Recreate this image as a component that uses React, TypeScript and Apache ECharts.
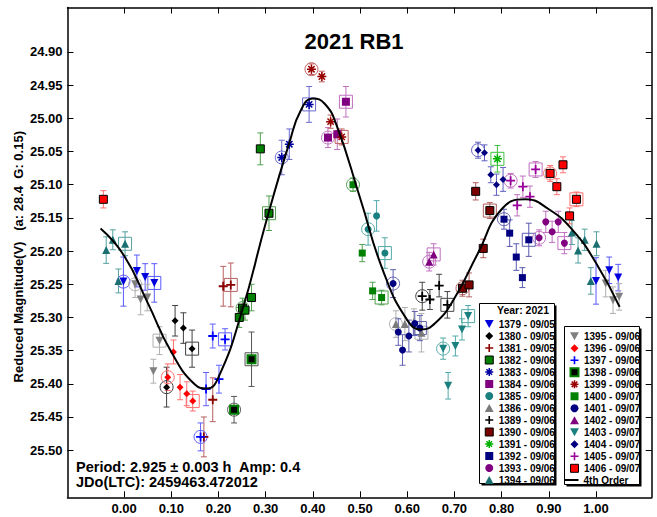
import React, { useEffect, useRef } from 'react';
import * as echarts from 'echarts';

// [phase, reduced magnitude, error, ring (0 none, 1 circle, 2 square)]
type Pt = [number, number, number, number];

const s1379: Pt[] = [[-0.0015, 25.246, 0.037, 1], [0.027, 25.230, 0.024, 0], [0.0445, 25.239, 0.020, 0], [0.064, 25.248, 0.029, 2], [1.000, 25.245, 0.035, 0], [1.028, 25.229, 0.020, 0], [1.047, 25.240, 0.020, 0]];
const s1380: Pt[] = [[0.108, 25.305, 0.023, 0], [0.1256, 25.316, 0.023, 0], [0.144, 25.347, 0.028, 2], [0.090, 25.405, 0.030, 1]];
const s1381: Pt[] = [[0.1878, 25.424, 0.033, 0], [0.169, 25.480, 0.030, 0], [0.210, 25.253, 0.030, 0], [0.226, 25.251, 0.033, 2]];
const s1382: Pt[] = [[0.2886, 25.046, 0.024, 0], [0.307, 25.143, 0.026, 2], [0.244, 25.300, 0.015, 0], [0.251, 25.286, 0.015, 1], [0.256, 25.289, 0.015, 0], [0.270, 25.270, 0.020, 0]];
const s1383: Pt[] = [[0.334, 25.059, 0.026, 1], [0.350, 25.039, 0.023, 0], [0.392, 24.979, 0.027, 2]];
const s1384: Pt[] = [[0.432, 25.029, 0.015, 1], [0.4517, 25.024, 0.023, 0], [0.470, 24.975, 0.023, 2]];
const s1385: Pt[] = [[0.517, 25.167, 0.024, 1], [0.535, 25.147, 0.023, 0], [0.5526, 25.203, 0.023, 2]];
const s1386: Pt[] = [[0.576, 25.310, 0.020, 1], [0.595, 25.310, 0.025, 0], [0.614, 25.307, 0.020, 0], [0.630, 25.323, 0.029, 2]];
const s1389: Pt[] = [[0.6317, 25.268, 0.021, 1], [0.648, 25.273, 0.015, 0], [0.6676, 25.252, 0.017, 0], [0.685, 25.281, 0.020, 2]];
const s1390: Pt[] = [[0.717, 25.256, 0.012, 1], [0.731, 25.251, 0.018, 0], [0.761, 25.196, 0.014, 0], [0.745, 25.110, 0.013, 0], [0.775, 25.139, 0.012, 2]];
const s1391: Pt[] = [[0.791, 25.061, 0.020, 2]];
const s1392: Pt[] = [[0.805, 25.152, 0.015, 1], [0.817, 25.173, 0.020, 0], [0.831, 25.209, 0.020, 0], [0.844, 25.240, 0.015, 0], [0.8575, 25.183, 0.025, 2]];
const s1393: Pt[] = [[0.8794, 25.180, 0.012, 1], [0.8935, 25.156, 0.016, 0], [0.907, 25.171, 0.016, 0], [0.920, 25.156, 0.016, 0], [0.933, 25.188, 0.016, 2]];
const s1394: Pt[] = [[-0.038, 25.1985, 0.020, 0], [-0.024, 25.183, 0.015, 0], [0.002, 25.189, 0.018, 2], [-0.012, 25.245, 0.018, 0], [0.949, 25.172, 0.018, 0], [0.962, 25.199, 0.019, 0], [0.976, 25.183, 0.016, 0], [1.001, 25.189, 0.018, 0], [0.989, 25.245, 0.020, 0]];
const s1395: Pt[] = [[0.0233, 25.250, 0.020, 1], [0.035, 25.273, 0.023, 0], [0.049, 25.270, 0.020, 0], [0.075, 25.335, 0.021, 2], [0.062, 25.381, 0.018, 0], [1.0205, 25.249, 0.020, 0], [1.036, 25.274, 0.020, 0], [1.049, 25.269, 0.020, 0]];
const s1396: Pt[] = [[0.1045, 25.352, 0.018, 0], [0.0925, 25.390, 0.020, 1], [0.1186, 25.405, 0.019, 0], [0.1327, 25.415, 0.018, 0], [0.1454, 25.426, 0.015, 2]];
const s1397: Pt[] = [[0.1736, 25.408, 0.025, 0], [0.201, 25.393, 0.021, 0], [0.162, 25.480, 0.021, 1], [0.1878, 25.328, 0.018, 0], [0.2139, 25.333, 0.016, 2]];
const s1398: Pt[] = [[0.233, 25.439, 0.020, 1], [0.270, 25.363, 0.041, 2]];
const s1399: Pt[] = [[0.397, 24.926, 0.008, 1], [0.419, 24.937, 0.008, 0], [0.4376, 25.005, 0.010, 0], [0.461, 25.028, 0.012, 2]];
const s1400: Pt[] = [[0.485, 25.100, 0.010, 1], [0.5046, 25.203, 0.013, 0], [0.5266, 25.260, 0.013, 0], [0.5456, 25.270, 0.011, 2]];
const s1401: Pt[] = [[0.570, 25.249, 0.021, 1], [0.581, 25.322, 0.020, 0], [0.590, 25.349, 0.023, 0], [0.6034, 25.328, 0.024, 0], [0.616, 25.309, 0.018, 0], [0.6267, 25.316, 0.019, 2]];
const s1402: Pt[] = [[0.6465, 25.216, 0.014, 1], [0.656, 25.205, 0.016, 2]];
const s1403: Pt[] = [[0.676, 25.347, 0.016, 1], [0.6866, 25.403, 0.020, 0], [0.702, 25.343, 0.015, 0], [0.716, 25.318, 0.016, 0], [0.729, 25.298, 0.016, 2]];
const s1404: Pt[] = [[0.750, 25.048, 0.012, 1], [0.7637, 25.052, 0.012, 0], [0.777, 25.085, 0.012, 0], [0.789, 25.100, 0.016, 0], [0.803, 25.092, 0.018, 0]];
const s1405: Pt[] = [[0.819, 25.094, 0.011, 1], [0.833, 25.131, 0.016, 0], [0.845, 25.103, 0.016, 0], [0.860, 25.118, 0.016, 0], [0.872, 25.077, 0.012, 2]];
const s1406: Pt[] = [[-0.044, 25.122, 0.013, 0], [0.9027, 25.083, 0.012, 1], [0.930, 25.070, 0.012, 0], [0.917, 25.103, 0.012, 0], [0.944, 25.147, 0.012, 0], [0.9585, 25.122, 0.011, 2]];

// 4th order fit
const curvePhase = [-0.05, 0.0, 0.05, 0.10, 0.15, 0.175, 0.20, 0.25, 0.30, 0.35, 0.375, 0.40, 0.425, 0.45, 0.50, 0.55, 0.60, 0.63, 0.66, 0.70, 0.75, 0.80, 0.85, 0.90, 0.95, 1.00, 1.05];
const curveMag = [25.166, 25.207, 25.278, 25.352, 25.401, 25.407, 25.390, 25.290, 25.158, 25.037, 24.987, 24.970, 24.978, 25.010, 25.120, 25.232, 25.304, 25.318, 25.308, 25.271, 25.203, 25.137, 25.122, 25.137, 25.168, 25.218, 25.284];

const xTicks = [0.0, 0.1, 0.2, 0.3, 0.4, 0.5, 0.6, 0.7, 0.8, 0.9, 1.0];
const yTicks = [24.90, 24.95, 25.00, 25.05, 25.10, 25.15, 25.20, 25.25, 25.30, 25.35, 25.40, 25.45, 25.50];

const X_MIN = -0.12, X_MAX = 1.118, Y_MIN = 24.833, Y_MAX = 25.571;

const FONT = '"Liberation Sans", Arial, sans-serif';

const DOWN = 'path://M0,0L10,0L5,9Z';
const UP = 'path://M5,0L10,9L0,9Z';
const DIAM = 'path://M5,0L10,5L5,10L0,5Z';
const PLUS = 'path://M4,0H6V4H10V6H6V10H4V6H0V4H4Z';
const STAR = 'path://M0,5L10,5M5,0L5,10M1.5,1.5L8.5,8.5M1.5,8.5L8.5,1.5';
const SQ = 'path://M0,0H10V10H0Z';
const CIR = 'circle';

interface Sess { name: string; data: Pt[]; sym: string; size: number; color: string; border?: string; bw?: number; err: string; }

const sessions: Sess[] = [
  { name: '1379 - 09/05', data: s1379, sym: DOWN, size: 8, color: '#0000dd', err: '#5a5aff' },
  { name: '1380 - 09/05', data: s1380, sym: DIAM, size: 7, color: '#000000', err: '#404040' },
  { name: '1381 - 09/05', data: s1381, sym: PLUS, size: 9, color: '#8b0000', err: '#b86060' },
  { name: '1382 - 09/06', data: s1382, sym: SQ, size: 8, color: '#008000', border: '#000000', bw: 1, err: '#50a050' },
  { name: '1383 - 09/06', data: s1383, sym: STAR, size: 9, color: '#0000a0', border: '#0000a0', bw: 1.5, err: '#6a6ad0' },
  { name: '1384 - 09/06', data: s1384, sym: SQ, size: 8, color: '#800080', err: '#c070c0' },
  { name: '1385 - 09/06', data: s1385, sym: CIR, size: 7, color: '#1a7f7f', err: '#55aaaa' },
  { name: '1386 - 09/06', data: s1386, sym: UP, size: 8, color: '#7a7a7a', err: '#b0b0b0' },
  { name: '1389 - 09/06', data: s1389, sym: PLUS, size: 9, color: '#000000', err: '#444444' },
  { name: '1390 - 09/06', data: s1390, sym: SQ, size: 8, color: '#7a0000', border: '#000000', bw: 1, err: '#b06060' },
  { name: '1391 - 09/06', data: s1391, sym: STAR, size: 9, color: '#00b000', border: '#00b000', bw: 1.5, err: '#40c040' },
  { name: '1392 - 09/06', data: s1392, sym: SQ, size: 7, color: '#000080', err: '#5a5ab0' },
  { name: '1393 - 09/06', data: s1393, sym: CIR, size: 7, color: '#800080', err: '#c070c0' },
  { name: '1394 - 09/06', data: s1394, sym: UP, size: 8, color: '#1a7070', err: '#55a0a0' },
  { name: '1395 - 09/06', data: s1395, sym: DOWN, size: 8, color: '#808080', err: '#b0b0b0' },
  { name: '1396 - 09/06', data: s1396, sym: DIAM, size: 7, color: '#ff0000', err: '#ff7070' },
  { name: '1397 - 09/06', data: s1397, sym: PLUS, size: 9, color: '#0000ff', err: '#6060ff' },
  { name: '1398 - 09/06', data: s1398, sym: SQ, size: 8, color: '#000000', border: '#008000', bw: 2, err: '#555555' },
  { name: '1399 - 09/06', data: s1399, sym: STAR, size: 9, color: '#990000', border: '#990000', bw: 1.5, err: '#c06060' },
  { name: '1400 - 09/07', data: s1400, sym: SQ, size: 7, color: '#008000', err: '#50a050' },
  { name: '1401 - 09/07', data: s1401, sym: CIR, size: 7, color: '#000080', err: '#6060b0' },
  { name: '1402 - 09/07', data: s1402, sym: UP, size: 8, color: '#800080', err: '#c070c0' },
  { name: '1403 - 09/07', data: s1403, sym: DOWN, size: 8, color: '#1a7f7f', err: '#55aaaa' },
  { name: '1404 - 09/07', data: s1404, sym: DIAM, size: 7, color: '#000080', err: '#6060c0' },
  { name: '1405 - 09/07', data: s1405, sym: PLUS, size: 9, color: '#990099', err: '#c070c0' },
  { name: '1406 - 09/07', data: s1406, sym: SQ, size: 8, color: '#ff0000', border: '#000000', bw: 1, err: '#ff7070' },
];

const FIT_NAME = '4th Order';

function legendItem(s: Sess) {
  return {
    name: s.name,
    icon: s.sym,
    itemStyle: { color: s.color, borderColor: s.border || s.color, borderWidth: s.bw || 0 },
  };
}

export default function App() {
  const ref = useRef<HTMLDivElement>(null);
  useEffect(() => {
    if (!ref.current) return;
    const chart = echarts.init(ref.current, null, { renderer: 'svg' });

    const errSeries = sessions.map((s) => ({
      type: 'custom',
      name: 'err' + s.name,
      z: 2,
      data: s.data,
      renderItem: (params: any, api: any) => {
        const x = api.value(0), y = api.value(1), e = api.value(2), ring = api.value(3);
        const p = api.coord([x, y]);
        const t = api.coord([x, y - e]);
        const b = api.coord([x, y + e]);
        const st = { stroke: s.err, lineWidth: 1, fill: 'none' };
        const ch: any[] = [
          { type: 'line', shape: { x1: p[0], y1: t[1], x2: p[0], y2: b[1] }, style: st },
          { type: 'line', shape: { x1: p[0] - 3, y1: t[1], x2: p[0] + 3, y2: t[1] }, style: st },
          { type: 'line', shape: { x1: p[0] - 3, y1: b[1], x2: p[0] + 3, y2: b[1] }, style: st },
        ];
        if (ring === 1) ch.push({ type: 'circle', shape: { cx: p[0], cy: p[1], r: 6.5 }, style: st });
        if (ring === 2) ch.push({ type: 'rect', shape: { x: p[0] - 6.5, y: p[1] - 6.5, width: 13, height: 13 }, style: st });
        return { type: 'group', children: ch };
      },
    }));

    const markSeries = sessions.map((s) => ({
      type: 'scatter',
      name: s.name,
      z: 3,
      symbol: s.sym,
      symbolSize: s.size,
      data: s.data.map((d) => [d[0], d[1]]),
      itemStyle: { color: s.color, borderColor: s.border || s.color, borderWidth: s.bw || 0, opacity: 1 },
      emphasis: { disabled: true },
    }));

    const fitSeries = {
      type: 'line',
      name: FIT_NAME,
      z: 4,
      smooth: 0.5,
      symbol: 'none',
      data: curvePhase.map((x, i) => [x, curveMag[i]]),
      lineStyle: { color: '#000', width: 2 },
      itemStyle: { color: '#000' },
    };

    const axisCommon = {
      type: 'value',
      splitLine: { show: false },
      axisLine: { show: true, onZero: false, lineStyle: { color: '#000', width: 1.5 } },
    };

    const legText = { fontFamily: FONT, fontWeight: 'bold', fontSize: 10, color: '#000', lineHeight: 12 };
    const legCommon = {
      orient: 'vertical',
      padding: 0,
      itemGap: 0,
      itemWidth: 9,
      itemHeight: 8,
      selectedMode: false,
      z: 10,
      textStyle: legText,
    };

    const left = sessions.slice(0, 14);
    const right = sessions.slice(14);

    const box = (x: number, y: number, w: number, h: number) => [
      { type: 'rect', z: 8, shape: { x: x + 2, y: y + 2, width: w, height: h }, style: { fill: '#000' } },
      { type: 'rect', z: 9, shape: { x, y, width: w, height: h }, style: { fill: '#fff', stroke: '#000', lineWidth: 1 } },
    ];

    chart.setOption({
      animation: false,
      grid: { left: 67.5, right: 5.3, top: 7.5, bottom: 19.7, containLabel: false },
      xAxis: [
        {
          ...axisCommon, min: X_MIN, max: X_MAX, position: 'bottom',
          axisTick: { show: true, inside: true, length: 6, customValues: xTicks, lineStyle: { color: '#000' } },
          axisLabel: { customValues: xTicks, formatter: (v: number) => v.toFixed(2), fontFamily: FONT, fontWeight: 'bold', fontSize: 13, color: '#000', margin: 5 },
        },
        {
          ...axisCommon, min: X_MIN, max: X_MAX, position: 'top',
          axisTick: { show: true, inside: true, length: 6, customValues: xTicks, lineStyle: { color: '#000' } },
          axisLabel: { show: false },
        },
      ],
      yAxis: [
        {
          ...axisCommon, min: Y_MIN, max: Y_MAX, inverse: true, position: 'left',
          axisTick: { show: true, inside: true, length: 6, customValues: yTicks, lineStyle: { color: '#000' } },
          axisLabel: { customValues: yTicks, formatter: (v: number) => v.toFixed(2), fontFamily: FONT, fontWeight: 'bold', fontSize: 13, color: '#000', margin: 5 },
        },
        {
          ...axisCommon, min: Y_MIN, max: Y_MAX, inverse: true, position: 'right',
          axisTick: { show: true, inside: true, length: 6, customValues: yTicks, lineStyle: { color: '#000' } },
          axisLabel: { show: false },
        },
      ],
      legend: [
        { ...legCommon, left: 484.5, top: 318, data: left.map(legendItem) },
        { ...legCommon, left: 569.5, top: 330.3, data: right.map(legendItem) },
        { ...legCommon, left: 564.5, top: 474, itemWidth: 14, data: [{ name: FIT_NAME, icon: 'path://M0,4H14V6H0Z', itemStyle: { color: '#000' } }] },
      ],
      graphic: [
        ...box(479.5, 303.5, 75, 180),
        ...box(564.5, 326.5, 75, 158),
        { type: 'text', z: 10, x: 523, y: 309.5, style: { text: 'Year: 2021', font: `bold 10.5px ${FONT}`, fill: '#000', align: 'center', verticalAlign: 'middle', textAlign: 'center', textVerticalAlign: 'middle' } },
        { type: 'text', z: 10, x: 354, y: 41.5, style: { text: '2021 RB1', font: `bold 22px ${FONT}`, fill: '#000', align: 'center', verticalAlign: 'middle', textAlign: 'center', textVerticalAlign: 'middle' } },
        { type: 'text', z: 10, x: 18.5, y: 256.7, rotation: Math.PI / 2, style: { text: 'Reduced Magnitude(V)   (a: 28.4  G: 0.15)', font: `bold 13px ${FONT}`, fill: '#000', align: 'center', verticalAlign: 'middle', textAlign: 'center', textVerticalAlign: 'middle' } },
        { type: 'text', z: 10, x: 76, y: 466.7, style: { text: 'Period: 2.925 \u00b1 0.003 h  Amp: 0.4', font: `bold 14.5px ${FONT}`, fill: '#000', align: 'left', verticalAlign: 'middle', textAlign: 'left', textVerticalAlign: 'middle' } },
        { type: 'text', z: 10, x: 76, y: 482, style: { text: 'JDo(LTC): 2459463.472012', font: `bold 14.5px ${FONT}`, fill: '#000', align: 'left', verticalAlign: 'middle', textAlign: 'left', textVerticalAlign: 'middle' } },
      ],
      series: [...errSeries, ...markSeries, fitSeries],
    });
    return () => chart.dispose();
  }, []);
  return <div ref={ref} style={{ position: 'fixed', left: 0, top: 0, width: 657, height: 517, background: '#fff' }} />;
}
